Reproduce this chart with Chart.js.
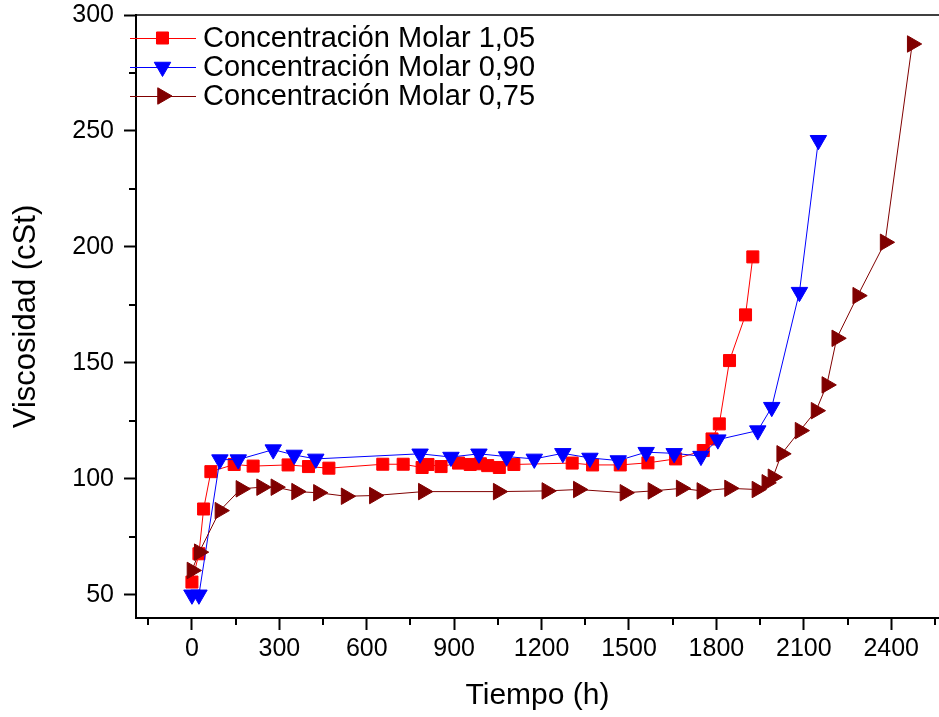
<!DOCTYPE html>
<html>
<head>
<meta charset="utf-8">
<script src="https://cdn.jsdelivr.net/npm/chart.js@4.4.0/dist/chart.umd.min.js"></script>
<style>
    html, body { margin: 0; padding: 0; background: #fff; overflow: hidden; }
    #wrap { width: 939px; height: 717px; }
</style>
</head>
<body>
<div id="wrap"><canvas id="viscChart" width="939" height="717"></canvas></div>
<script>
// ===== Data =====
const seriesLabels = ["Concentración Molar 1,05", "Concentración Molar 0,90", "Concentración Molar 0,75"];

// Concentración Molar 1,05
const timeM105 = [0, 24, 40, 65, 145, 210, 330, 400, 470, 655, 725, 790, 810, 855, 915, 955, 990, 1015, 1055, 1105, 1305, 1375, 1470, 1565, 1660, 1755, 1785, 1810, 1845, 1900, 1925];
const viscM105 = [55.5, 67.7, 87, 103.1, 106.2, 105.5, 106, 105.3, 104.6, 106.3, 106.3, 104.9, 106.2, 105.3, 106.8, 106.2, 106.5, 105.7, 104.9, 106.2, 106.8, 106, 106, 106.9, 108.6, 112.2, 117.2, 123.7, 151, 170.7, 195.7];

// Concentración Molar 0,90
const timeM090 = [0, 24, 96, 159, 279, 351, 425, 783, 889, 985, 1080, 1175, 1273, 1366, 1463, 1559, 1655, 1747, 1805, 1942, 1990, 2085, 2150];
const viscM090 = [50, 50, 108.3, 108.3, 112.6, 110.3, 108.6, 110.8, 109.4, 110.8, 109.6, 108.6, 111, 109, 107.9, 111.5, 111, 109.8, 116.9, 120.8, 130.9, 180.5, 246];

// Concentración Molar 0,75
const timeM075 = [0, 25, 96, 168, 239, 288, 359, 434, 529, 626, 794, 1051, 1218, 1326, 1486, 1582, 1679, 1750, 1845, 1939, 1973, 1994, 2024, 2087, 2142, 2179, 2213, 2285, 2379, 2472];
const viscM075 = [60.5, 68.4, 86.3, 95.7, 96.4, 96.4, 94.5, 94, 92.5, 92.8, 94.5, 94.5, 94.8, 95.4, 94, 94.8, 95.9, 94.8, 95.9, 95.4, 98.3, 100.7, 110.8, 120.8, 129.4, 140.5, 160.6, 179, 202, 287.5];

// Tick labels
const xTicks = [0, 300, 600, 900, 1200, 1500, 1800, 2100, 2400];
const yTicks = [50, 100, 150, 200, 250, 300];

const FONT = "'Liberation Sans', Arial, sans-serif";
const colors = ["#ff0000", "#0000ff", "#800000"];
const markers = [
    { style: "rect", radius: 8.5, rotation: 0 },
    { style: "triangle", radius: 9.5, rotation: 180 },
    { style: "triangle", radius: 9.5, rotation: 90 }
];

function toPoints(xs, ys) {
    return xs.map((x, i) => ({ x: x, y: ys[i] }));
}

// no extra room for edge labels: the plot box is pinned by layout.padding
function pinScale(s, size) {
    if (s.isHorizontal()) s.height = size; else s.width = size;
    s.paddingTop = 0;
    s.paddingBottom = 0;
    s.paddingLeft = 0;
    s.paddingRight = 0;
}

// ===== Frame, minor ticks and Origin-style legend =====
const framePlugin = {
    id: "frame",
    afterDraw(chart) {
        const { ctx, chartArea: a, scales } = chart;
        const x = scales.x, y = scales.y;
        ctx.save();
        ctx.strokeStyle = "#000";

        // top border
        ctx.lineWidth = 1.5;
        ctx.beginPath();
        ctx.moveTo(a.left, a.top);
        ctx.lineTo(a.right, a.top);
        ctx.stroke();

        // minor ticks halfway between the major ones
        ctx.lineWidth = 2;
        ctx.beginPath();
        const xStep = xTicks[1] - xTicks[0];
        for (let v = xTicks[0] - xStep / 2; v <= x.max; v += xStep) {
            if (v < x.min) continue;
            const px = Math.round(x.getPixelForValue(v));
            ctx.moveTo(px, a.bottom);
            ctx.lineTo(px, a.bottom + 7);
        }
        const yStep = yTicks[1] - yTicks[0];
        for (let v = yTicks[0] + yStep / 2; v < y.max; v += yStep) {
            const py = Math.round(y.getPixelForValue(v));
            ctx.moveTo(a.left, py);
            ctx.lineTo(a.left - 7, py);
        }
        ctx.stroke();

        // legend: line through marker, then label
        ctx.font = "29px " + FONT;
        ctx.textBaseline = "middle";
        const rows = [38, 67, 96];
        seriesLabels.forEach((label, i) => {
            const ry = rows[i];
            ctx.strokeStyle = colors[i];
            ctx.lineWidth = 1;
            ctx.beginPath();
            ctx.moveTo(130, ry + 0.5);
            ctx.lineTo(196, ry + 0.5);
            ctx.stroke();
            ctx.fillStyle = colors[i];
            Chart.helpers.drawPoint(ctx, {
                pointStyle: markers[i].style,
                radius: markers[i].radius,
                rotation: markers[i].rotation,
                borderWidth: 1
            }, 162.5, ry);
            ctx.fillStyle = "#000";
            ctx.fillText(label, 203, ry + 1);
        });
        ctx.restore();
    }
};

const datasets = [[timeM105, viscM105], [timeM090, viscM090], [timeM075, viscM075]].map((s, i) => ({
    label: seriesLabels[i],
    data: toPoints(s[0], s[1]),
    showLine: true,
    borderColor: colors[i],
    backgroundColor: colors[i],
    borderWidth: 1,
    pointStyle: markers[i].style,
    pointRadius: markers[i].radius,
    pointRotation: markers[i].rotation,
    pointBorderWidth: 1,
    pointBorderColor: colors[i],
    pointBackgroundColor: colors[i],
    order: 2 - i
}));

new Chart(document.getElementById("viscChart"), {
    type: "scatter",
    data: { datasets: datasets },
    options: {
        responsive: false,
        animation: false,
        devicePixelRatio: 1,
        layout: { autoPadding: false, padding: { top: 15, right: 0, left: 0, bottom: 0 } },
        plugins: {
            legend: { display: false },
            tooltip: { enabled: false }
        },
        scales: {
            x: {
                type: "linear",
                min: -192,
                max: 2564,
                afterBuildTicks: (s) => { s.ticks = xTicks.map(v => ({ value: v })); },
                afterFit: (s) => pinScale(s, 99),
                grid: { drawOnChartArea: false, tickLength: 12, tickWidth: 2, tickColor: "#000" },
                border: { display: true, color: "#000", width: 2 },
                ticks: {
                    color: "#000", font: { family: FONT, size: 25 }, padding: 4,
                    maxRotation: 0, autoSkip: false,
                    callback: (v) => String(v)
                },
                title: { display: true, text: "Tiempo (h)", color: "#000", font: { family: FONT, size: 30 }, padding: { top: 0, bottom: 3 } }
            },
            y: {
                min: 40,
                max: 300,
                afterBuildTicks: (s) => { s.ticks = yTicks.map(v => ({ value: v })); },
                afterFit: (s) => pinScale(s, 136),
                grid: { drawOnChartArea: false, tickLength: 12, tickWidth: 2, tickColor: "#000" },
                border: { display: true, color: "#000", width: 2 },
                ticks: {
                    color: "#000", font: { family: FONT, size: 25 }, padding: 10, autoSkip: false,
                    callback: (v) => String(v)
                },
                title: { display: true, text: "Viscosidad (cSt)", color: "#000", font: { family: FONT, size: 31 }, padding: { top: 8, bottom: 0 } }
            }
        }
    },
    plugins: [framePlugin]
});
</script>
</body>
</html>
